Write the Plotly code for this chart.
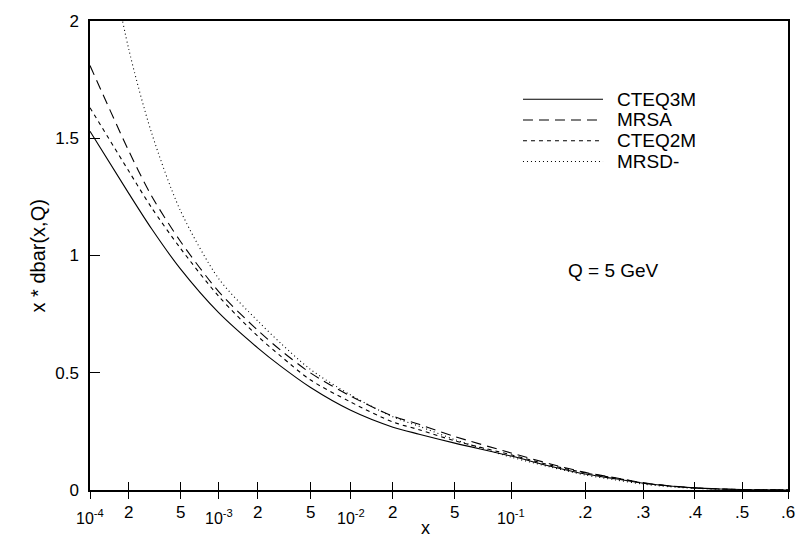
import numpy as np
import plotly.graph_objects as go

# Momentum fraction grid and x * dbar(x, Q) at Q = 5 GeV for each PDF set
x_grid = [1e-4, 2e-4, 3e-4, 5e-4, 1e-3, 2e-3, 3e-3, 5e-3, 1e-2, 2e-2, 3e-2, 5e-2,
          0.1, 0.15, 0.2, 0.25, 0.3, 0.35, 0.4, 0.45, 0.5, 0.55, 0.6]
cteq3m = [1.53, 1.265, 1.115, 0.945, 0.755, 0.605, 0.527, 0.438, 0.34, 0.268, 0.238, 0.20,
          0.145, 0.10, 0.068, 0.048, 0.029, 0.017, 0.009, 0.0045, 0.002, 0.0008, 0.0003]
mrsa = [1.81, 1.446, 1.255, 1.063, 0.845, 0.68, 0.595, 0.50, 0.40, 0.315, 0.28, 0.228,
        0.158, 0.11, 0.075, 0.052, 0.031, 0.018, 0.009, 0.0045, 0.002, 0.0008, 0.0003]
cteq2m = [1.63, 1.36, 1.205, 1.033, 0.825, 0.655, 0.57, 0.47, 0.375, 0.29, 0.257, 0.21,
          0.15, 0.105, 0.073, 0.051, 0.030, 0.017, 0.009, 0.0045, 0.002, 0.0008, 0.0003]
mrsd_minus = [2.7, 1.88, 1.525, 1.195, 0.90, 0.72, 0.625, 0.515, 0.405, 0.312, 0.272, 0.215,
              0.14, 0.097, 0.064, 0.043, 0.025, 0.014, 0.007, 0.0035, 0.0015, 0.0006, 0.0002]

series_names = ["CTEQ3M", "MRSA", "CTEQ2M", "MRSD-"]
series_values = [cteq3m, mrsa, cteq2m, mrsd_minus]
series_dash = ["solid", "10px,6px", "4px,4px", "1px,3px"]

tick_x = [1e-4, 2e-4, 5e-4, 1e-3, 2e-3, 5e-3, 1e-2, 2e-2, 5e-2, 0.1, 0.2, 0.3, 0.4, 0.5, 0.6]
tick_text = ["10<sup>-4</sup>", "2", "5", "10<sup>-3</sup>", "2", "5", "10<sup>-2</sup>",
             "2", "5", "10<sup>-1</sup>", ".2", ".3", ".4", ".5", ".6"]
y_ticks = [0, 0.5, 1, 1.5, 2]
y_text = ["0", "0.5", "1", "1.5", "2"]


def xscale(x):
    """Mixed log/linear abscissa: logarithmic at small x, stretched towards x -> 1."""
    x = np.asarray(x, dtype=float)
    return np.log10(x) + 2.75 * x


FONT = "Liberation Sans, Arial, Helvetica, sans-serif"
u_grid = xscale(x_grid)
u_ticks = xscale(tick_x)
x_range = [float(xscale(1e-4)), float(xscale(0.6))]

fig = go.Figure()
for name, vals, dash in zip(series_names, series_values, series_dash):
    fig.add_trace(go.Scatter(
        x=u_grid, y=vals, mode="lines", name=name,
        line=dict(color="black", width=1.1, dash=dash, shape="spline", smoothing=0.8),
        showlegend=False, hoverinfo="skip",
    ))
# carrier for the inward tick marks of the second x axis
fig.add_trace(go.Scatter(x=[], y=[], xaxis="x2", showlegend=False, hoverinfo="skip"))

fig.update_layout(
    width=804, height=539,
    margin=dict(l=90, r=16, t=16, b=49),
    paper_bgcolor="white", plot_bgcolor="white",
    font=dict(family=FONT, size=17, color="black"),
    xaxis=dict(range=x_range, tickmode="array", tickvals=u_ticks, ticktext=tick_text,
               showticklabels=False, ticks="outside", ticklen=7, tickwidth=1, tickcolor="black",
               showline=True, linecolor="black", linewidth=1.5, mirror=True,
               showgrid=False, zeroline=False),
    xaxis2=dict(range=x_range, overlaying="x", anchor="y", tickmode="array", tickvals=u_ticks,
                showticklabels=False, ticks="inside", ticklen=8, tickwidth=1, tickcolor="black",
                showline=False, showgrid=False, zeroline=False),
    yaxis=dict(range=[0, 2], tickmode="array", tickvals=y_ticks, ticktext=y_text,
               ticks="inside", ticklen=10, tickwidth=1, tickcolor="black",
               ticklabelstandoff=6, tickfont=dict(size=17),
               showline=True, linecolor="black", linewidth=1.5, mirror=True,
               showgrid=False, zeroline=False),
)

# x tick labels (decade labels sit lower than the intermediate digits)
for u, txt in zip(u_ticks, tick_text):
    decade = "sup" in txt
    fig.add_annotation(x=float(u), y=0, xref="x", yref="paper", text=txt, showarrow=False,
                       xanchor="center", yanchor="top", yshift=-15 if decade else -11,
                       font=dict(family=FONT, size=16 if decade else 17, color="black"))

# axis titles
fig.add_annotation(x=-0.0745, y=0.5, xref="paper", yref="paper", text="x * dbar(x,Q)",
                   textangle=-90, showarrow=False, xanchor="center", yanchor="middle",
                   font=dict(family=FONT, size=20, color="black"))
fig.add_annotation(x=0.48, y=-0.080, xref="paper", yref="paper", text="x",
                   showarrow=False, xanchor="center", yanchor="middle",
                   font=dict(family=FONT, size=18, color="black"))

# legend drawn as line samples with labels
leg_y = [0.8333, 0.789, 0.7447, 0.7004]
for name, dash, yy in zip(series_names, series_dash, leg_y):
    fig.add_shape(type="line", xref="paper", yref="paper", x0=0.6203, x1=0.735, y0=yy, y1=yy,
                  line=dict(color="black", width=1.1, dash=dash))
    fig.add_annotation(x=0.752, y=yy, xref="paper", yref="paper", text=name, showarrow=False,
                       xanchor="left", yanchor="middle",
                       font=dict(family=FONT, size=19, color="black"))

fig.add_annotation(x=0.7507, y=0.468, xref="paper", yref="paper", text="Q = 5 GeV",
                   showarrow=False, xanchor="center", yanchor="middle",
                   font=dict(family=FONT, size=19, color="black"))

fig.write_html("out.html")
